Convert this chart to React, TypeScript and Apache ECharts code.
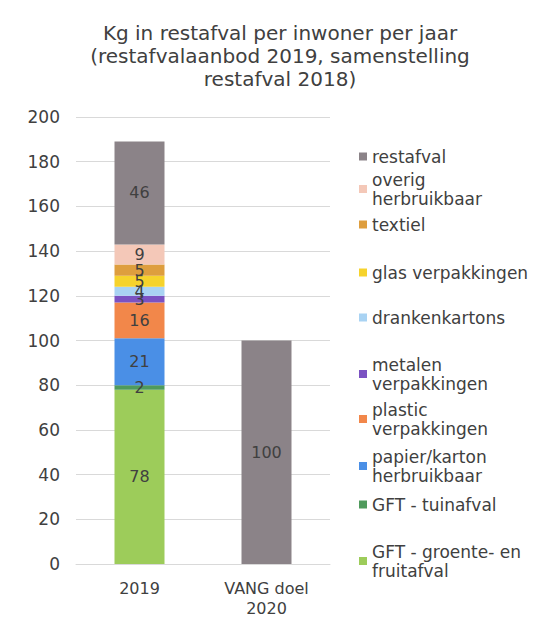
import React, { useEffect, useRef } from "react";
import * as echarts from "echarts";

const categories = ["2019", "VANG doel\n2020"];
const seriesNames = [
  "GFT - groente- en fruitafval",
  "GFT - tuinafval",
  "papier/karton herbruikbaar",
  "plastic verpakkingen",
  "metalen verpakkingen",
  "drankenkartons",
  "glas verpakkingen",
  "textiel",
  "overig herbruikbaar",
  "restafval",
];
const legendLabels = [
  "GFT - groente- en\nfruitafval",
  "GFT - tuinafval",
  "papier/karton\nherbruikbaar",
  "plastic\nverpakkingen",
  "metalen\nverpakkingen",
  "drankenkartons",
  "glas verpakkingen",
  "textiel",
  "overig\nherbruikbaar",
  "restafval",
];
const values2019 = [78, 2, 21, 16, 3, 4, 5, 5, 9, 46];
const valuesDoel2020 = [null, null, null, null, null, null, null, null, null, 100];
const colors = [
  "#9dcc5a",
  "#4f9a5c",
  "#4a8fe6",
  "#f2874a",
  "#7b52c2",
  "#a9d3f3",
  "#f6d32c",
  "#de9e3e",
  "#f4c8b8",
  "#8b8388",
];
const legendTops = [542, 495, 447, 400, 355, 308, 263, 215, 170, 147];

export default function App() {
  const ref = useRef<HTMLDivElement>(null);
  useEffect(() => {
    const chart = echarts.init(ref.current!, null, { renderer: "svg" });
    const font = "DejaVu Sans";
    const series = seriesNames.map((name, i) => ({
      name,
      type: "bar",
      stack: "total",
      barWidth: 50,
      itemStyle: { color: colors[i] },
      label: {
        show: true,
        position: "inside",
        color: "#404040",
        fontFamily: font,
        fontSize: 16,
      },
      data: [values2019[i], valuesDoel2020[i]],
    }));
    const legends = seriesNames.map((name, i) => ({
      data: [name],
      left: 359,
      top: legendTops[i],
      padding: 0,
      orient: "vertical",
      itemWidth: 8,
      itemHeight: 8,
      itemGap: 4,
      icon: "rect",
      formatter: () => legendLabels[i],
      textStyle: {
        color: "#404040",
        fontFamily: font,
        fontSize: 17,
        lineHeight: 19,
      },
      selectedMode: false,
    }));
    chart.setOption({
      animation: false,
      backgroundColor: "#ffffff",
      title: {
        text: "Kg in restafval per inwoner per jaar\n(restafvalaanbod 2019, samenstelling\nrestafval 2018)",
        left: 280,
        top: 21,
        padding: 0,
        textAlign: "center",
        textStyle: {
          color: "#404040",
          fontFamily: font,
          fontSize: 20,
          fontWeight: "normal",
          lineHeight: 23,
        },
      },
      grid: { left: 76, right: 214, top: 117, bottom: 62 },
      legend: legends,
      xAxis: {
        type: "category",
        data: categories,
        axisLine: { show: true, lineStyle: { color: "#d9d9d9" } },
        axisTick: { show: false },
        axisLabel: {
          color: "#404040",
          fontFamily: font,
          fontSize: 16,
          margin: 14,
          lineHeight: 20,
        },
      },
      yAxis: {
        type: "value",
        min: 0,
        max: 200,
        interval: 20,
        axisLine: { show: false },
        axisTick: { show: false },
        splitLine: { lineStyle: { color: "#d9d9d9" } },
        axisLabel: {
          color: "#404040",
          fontFamily: font,
          fontSize: 17,
          margin: 16,
        },
      },
      series,
    });
    return () => chart.dispose();
  }, []);
  return (
    <div
      ref={ref}
      style={{ position: "fixed", left: 0, top: 0, width: 544, height: 626 }}
    />
  );
}
